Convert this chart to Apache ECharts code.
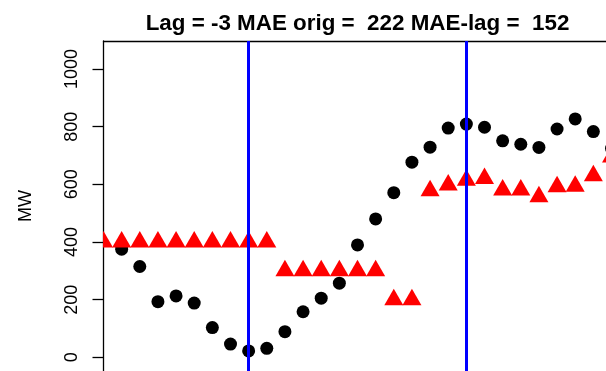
<!DOCTYPE html>
<html>
<head>
<meta charset="utf-8">
<script src="https://cdn.jsdelivr.net/npm/echarts@6/dist/echarts.min.js"></script>
<style>
  html, body { margin: 0; padding: 0; background: #ffffff; overflow: hidden; }
  /* The plot frame runs a few pixels past the right edge of the window */
  #chart { width: 612px; height: 371px; }
</style>
</head>
<body>
<div id="chart"></div>
<script>
// Hour index along the horizontal axis
const hourIndex = [0, 1, 2, 3, 4, 5, 6, 7, 8, 9, 10, 11, 12, 13, 14,
                   15, 16, 17, 18, 19, 20, 21, 22, 23, 24, 25, 26, 27, 28];

// Observed load (MW), black dots
const observedMW = [null, 375, 315, 193, 213, 188, 103, 46, 22, 31, 89, 158, 205, 257, 390,
                    480, 571, 677, 729, 795, 809, 798, 751, 739, 728, 792, 827, 783, 725];

// Lag-shifted forecast (MW), red triangles
const laggedMW = [400, 400, 400, 400, 400, 400, 400, 400, 400, 400, 300, 300, 300, 300, 300,
                  300, 200, 200, 578, 598, 614, 620, 580, 580, 557, 592, 593, 630, 695];

// Hours marked with vertical reference lines
const markerHours = [8, 20];

// Y-axis tick values
const yTicks = [0, 200, 400, 600, 800, 1000];

// Summary statistics shown in the heading
const lag = -3;
const maeOrig = 222;
const maeLag = 152;

const FONT = '"Liberation Sans", Arial, Helvetica, sans-serif';

const toPairs = (xs, ys) => xs.map((x, i) => [x, ys[i]]).filter(p => p[1] !== null);

// Filled point-up triangle whose centroid sits on the data value
const TRI_W = 19;
const TRI_H = 16.5;
function renderTriangle(params, api) {
  const p = api.coord([api.value(0), api.value(1)]);
  return {
    type: 'polygon',
    shape: {
      points: [
        [p[0], p[1] - (2 * TRI_H) / 3],
        [p[0] + TRI_W / 2, p[1] + TRI_H / 3],
        [p[0] - TRI_W / 2, p[1] + TRI_H / 3]
      ]
    },
    style: { fill: '#ff0000' }
  };
}

const chart = echarts.init(document.getElementById('chart'), null, { renderer: 'canvas' });

chart.setOption({
  animation: false,
  backgroundColor: '#ffffff',
  title: {
    text: 'Lag = ' + lag + ' MAE orig =  ' + maeOrig + ' MAE-lag =  ' + maeLag,
    left: 352.5,
    top: 8,
    textAlign: 'center',
    textStyle: { fontFamily: FONT, fontSize: 22.4, fontWeight: 'bold', color: '#000' }
  },
  grid: {
    left: 103.5,
    top: 41,
    width: 508,
    height: 330,
    show: false,
    containLabel: false
  },
  xAxis: {
    type: 'value',
    position: 'top',
    min: 0,
    max: 28,
    axisLine: { show: true, onZero: false, lineStyle: { color: '#000', width: 1.3 } },
    axisTick: { show: false },
    axisLabel: { show: false },
    splitLine: { show: false }
  },
  yAxis: {
    type: 'value',
    min: -47.5,
    max: 1097.2,
    name: 'MW',
    nameLocation: 'middle',
    nameRotate: 90,
    nameGap: 68,
    nameTextStyle: { fontFamily: FONT, fontSize: 18, color: '#000' },
    axisLine: { show: true, onZero: false, lineStyle: { color: '#000', width: 1.3 } },
    splitLine: { show: false },
    axisTick: {
      show: true,
      inside: false,
      length: 11,
      customValues: yTicks,
      lineStyle: { color: '#000', width: 1.3 }
    },
    axisLabel: {
      show: true,
      rotate: 90,
      margin: 22,
      customValues: yTicks,
      formatter: v => String(v),
      fontFamily: FONT,
      fontSize: 18,
      color: '#000'
    }
  },
  series: [
    {
      name: 'Observed',
      type: 'scatter',
      data: toPairs(hourIndex, observedMW),
      symbol: 'circle',
      symbolSize: 13,
      itemStyle: { color: '#000000', opacity: 1 },
      z: 2,
      clip: true,
      silent: true
    },
    {
      name: 'Lagged',
      type: 'custom',
      data: toPairs(hourIndex, laggedMW),
      renderItem: renderTriangle,
      encode: { x: 0, y: 1 },
      z: 3,
      clip: true,
      silent: true
    },
    {
      name: 'Markers',
      type: 'scatter',
      data: [],
      z: 4,
      silent: true,
      markLine: {
        silent: true,
        symbol: ['none', 'none'],
        label: { show: false },
        lineStyle: { color: '#0000ff', width: 3, type: 'solid', opacity: 1 },
        data: markerHours.map(h => ({ xAxis: h }))
      }
    }
  ]
});
</script>
</body>
</html>
